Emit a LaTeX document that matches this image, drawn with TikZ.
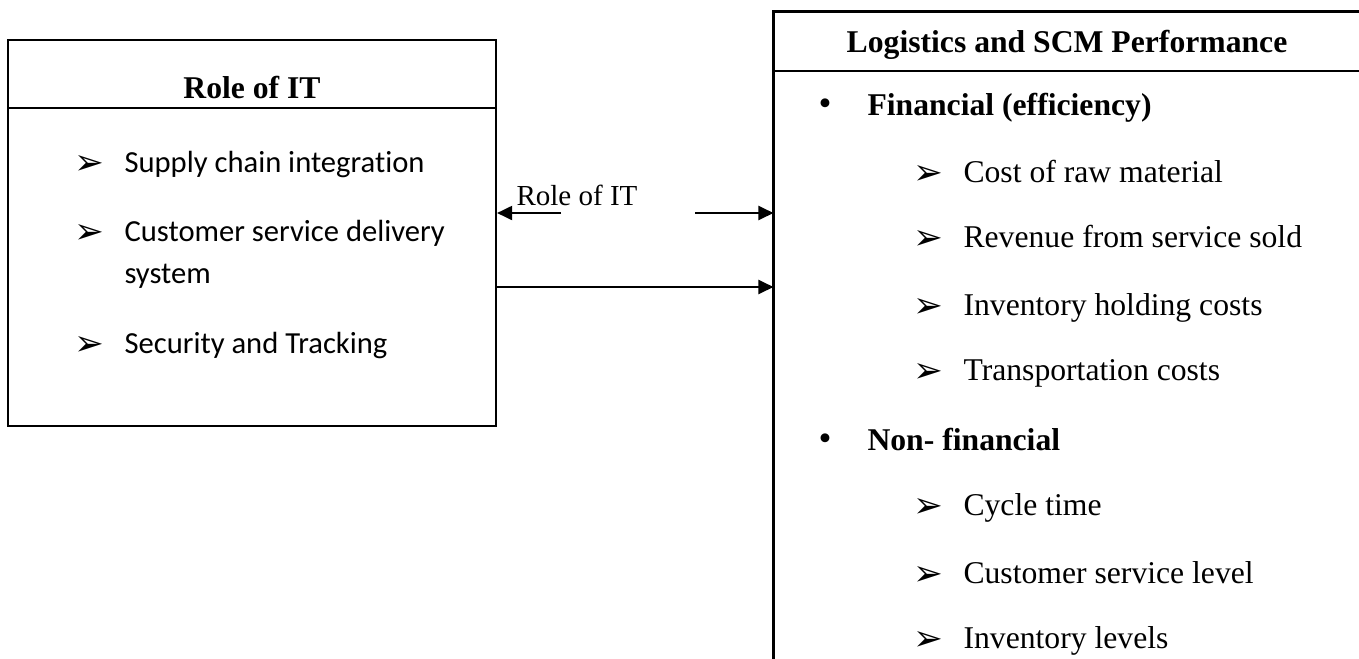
\documentclass[tikz,border=0pt]{standalone}
\usepackage{fontspec}
\setmainfont{Liberation Serif}
\newfontfamily\calibfont[Ligatures=NoCommon]{Carlito}
\newfontfamily\symfont{DejaVu Sans}
\usetikzlibrary{arrows.meta,fit}

\newcommand{\arrbul}{{\symfont\fontsize{13.5}{15}\selectfont\char"27A2}}

\begin{document}
\begin{tikzpicture}[x=0.379pt,y=-0.379pt,
	box/.style={draw,line width=0.8pt,inner sep=0pt},
	conn/.style={line width=0.8pt,-{Triangle[length=5.7pt,width=5.3pt]}},
	head/.style={anchor=base,inner sep=0pt,font=\fontsize{12}{14}\selectfont\bfseries},
	item/.style={anchor=base west,inner sep=0pt,font=\fontsize{12}{14}\selectfont},
	citem/.style={anchor=base west,inner sep=0pt,font=\calibfont\fontsize{11.6}{14}\selectfont},
	bulmark/.style={anchor=base west,inner sep=0pt}]
	\useasboundingbox (0,0) rectangle (1359,658);

	% Boxes
	\node[box,fit={(8,40) (496,426)}] (itbox) {};
	\draw[line width=0.8pt] (8,108) -- (496,108);
	\node[inner sep=0pt,fit={(774,12) (1359,658)}] (perfbox) {};
	\draw[line width=0.9pt] (perfbox.north east) -- (perfbox.north west) -- (perfbox.south west);
	\draw[line width=0.9pt] (774,71) -- (1359,71);

	% Headers
	\node[head] (ithead) at (252,98) {Role of IT};
	\node[head] (perfhead) at (1067,52) {Logistics and SCM Performance};

	% Role of IT items
	\node[bulmark] (ib1) at (74,174) {\arrbul};
	\node[citem] (it1) at (124,172) {Supply chain integration};
	\node[bulmark] (ib2) at (74,243) {\arrbul};
	\node[citem] (it2) at (124,241) {Customer service delivery};
	\node[citem] (it2b) at (124,283) {system};
	\node[bulmark] (ib3) at (74,355) {\arrbul};
	\node[citem] (it3) at (124,353) {Security and Tracking};

	% Performance items
	\node[bulmark] (fb) at (818,115) {\fontsize{14}{16}\selectfont\textbullet};
	\node[item,font=\fontsize{12}{14}\selectfont\bfseries] (fin) at (867,115) {Financial (efficiency)};
	\node[bulmark] (pb1) at (913,184) {\arrbul};
	\node[item] (p1) at (963,182) {Cost of raw material};
	\node[bulmark] (pb2) at (913,249) {\arrbul};
	\node[item] (p2) at (963,247) {Revenue from service sold};
	\node[bulmark] (pb3) at (913,317) {\arrbul};
	\node[item] (p3) at (963,315) {Inventory holding costs};
	\node[bulmark] (pb4) at (913,382) {\arrbul};
	\node[item] (p4) at (963,380) {Transportation costs};
	\node[bulmark] (nb) at (818,450) {\fontsize{14}{16}\selectfont\textbullet};
	\node[item,font=\fontsize{12}{14}\selectfont\bfseries] (nonfin) at (867,450) {Non- financial};
	\node[bulmark] (pb5) at (913,517) {\arrbul};
	\node[item] (p5) at (963,515) {Cycle time};
	\node[bulmark] (pb6) at (913,585) {\arrbul};
	\node[item] (p6) at (963,583) {Customer service level};
	\node[bulmark] (pb7) at (913,650) {\arrbul};
	\node[item] (p7) at (963,648) {Inventory levels};

	% Connectors
	\node[item,font=\fontsize{11}{13}\selectfont] (lbl) at (516,205) {Role of IT};
	\coordinate (lblL) at (561,213);
	\coordinate (lblR) at (695,213);
	\coordinate (low) at (600,287);
	\draw[conn] (lblL) -- (lblL -| itbox.east);
	\draw[conn] (lblR) -- (lblR -| perfbox.west);
	\draw[conn] (low -| itbox.east) -- (low -| perfbox.west);
\end{tikzpicture}
\end{document}
